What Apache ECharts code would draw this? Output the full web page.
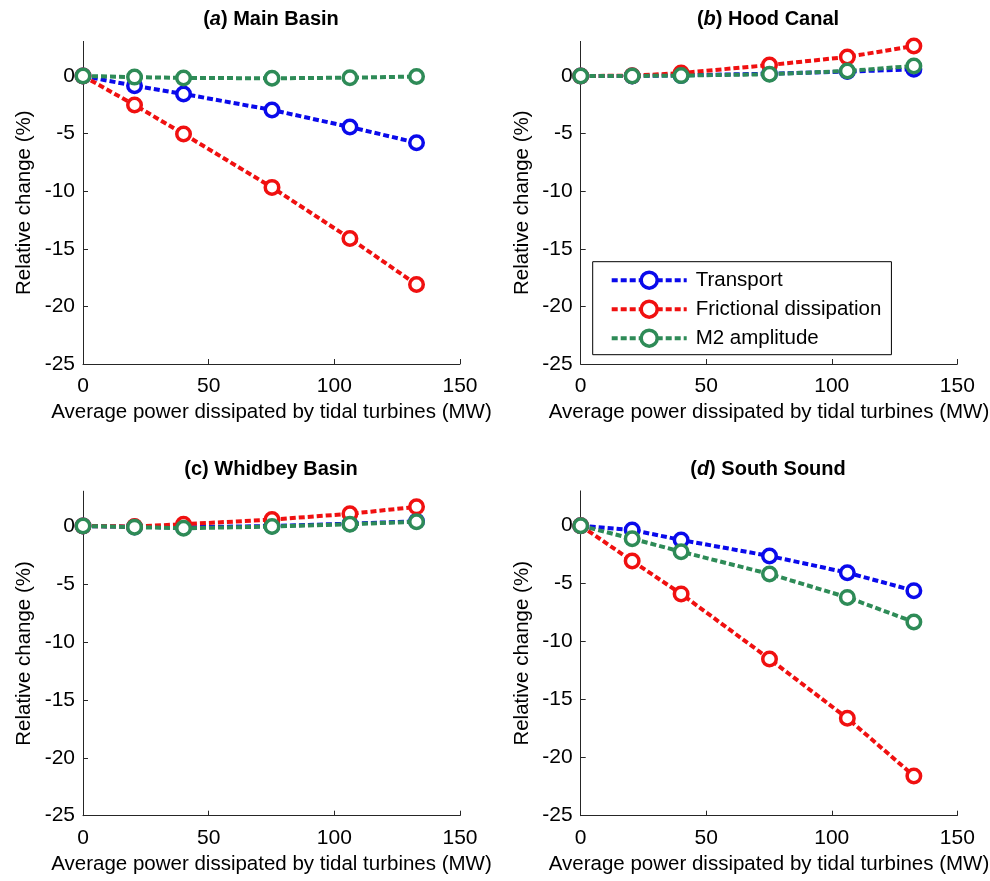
<!DOCTYPE html>
<html>
<head>
<meta charset="utf-8">
<script src="https://cdn.jsdelivr.net/npm/echarts@6/dist/echarts.min.js"></script>
<style>html,body{margin:0;padding:0;background:#fff;}#chart{width:990px;height:881px;}</style>
</head>
<body>
<div id="chart"></div>
<script>
// ---- data ----
var xValues = [0, 20.5, 40, 75.2, 106.2, 132.7];
var xTicks = [0, 50, 100, 150];
var yTicks = [-25, -20, -15, -10, -5, 0];
var seriesNames = ['Transport', 'Frictional dissipation', 'M2 amplitude'];
var panelLetters = ['a', 'b', 'c', 'd'];
var panelNames = ['Main Basin', 'Hood Canal', 'Whidbey Basin', 'South Sound'];

var mainTransport = [0, -0.85, -1.56, -2.95, -4.43, -5.79];
var mainFriction  = [0, -2.52, -5.03, -9.67, -14.1, -18.1];
var mainM2        = [0, -0.1, -0.17, -0.2, -0.15, -0.05];

var hoodTransport = [0, 0.0, 0.05, 0.2, 0.38, 0.58];
var hoodFriction  = [0, 0.02, 0.25, 0.95, 1.65, 2.6];
var hoodM2        = [0, 0.0, 0.03, 0.15, 0.43, 0.87];

var whidTransport = [0, -0.08, -0.12, 0.0, 0.2, 0.4];
var whidFriction  = [0, -0.05, 0.15, 0.55, 1.05, 1.65];
var whidM2        = [0, -0.1, -0.2, -0.05, 0.15, 0.37];

var southTransport = [0, -0.37, -1.23, -2.61, -4.05, -5.6];
var southFriction  = [0, -3.04, -5.88, -11.49, -16.6, -21.57];
var southM2        = [0, -1.12, -2.24, -4.16, -6.18, -8.3];

var panelData = [
  [mainTransport, mainFriction, mainM2],
  [hoodTransport, hoodFriction, hoodM2],
  [whidTransport, whidFriction, whidM2],
  [southTransport, southFriction, southM2]
];

// ---- styling / layout ----
var colors = ['#0a0aeb', '#f01010', '#2e8b57'];
var FONT = 'Arial, "Liberation Sans", sans-serif';
var grids = [
  {left: 83, top: 41.4, width: 377, height: 322.6},
  {left: 580.7, top: 41.4, width: 376.6, height: 322.6},
  {left: 83, top: 491.2, width: 377, height: 324.5},
  {left: 580.7, top: 490.9, width: 376.6, height: 324.8}
];
var titlePos = [
  {x: 271, y: 9}, {x: 768, y: 9}, {x: 271, y: 459}, {x: 768, y: 459}
];

var option = {
  animation: false,
  backgroundColor: '#fff',
  textStyle: {fontFamily: FONT},
  title: panelLetters.map(function (l, i) {
    var letter = (l === 'c') ? '{n|' + l + '}' : '{i|' + l + '}';
    return {
      text: '{n|(}' + letter + '{n|) ' + panelNames[i] + '}',
      left: titlePos[i].x, top: titlePos[i].y, padding: 0,
      textAlign: 'center',
      textStyle: {
        fontFamily: FONT, fontSize: 20, fontWeight: 'bold', color: '#000',
        rich: {
          n: {fontFamily: FONT, fontSize: 20, fontWeight: 'bold', color: '#000'},
          i: {fontFamily: FONT, fontSize: 20, fontWeight: 'bold', fontStyle: 'italic', color: '#000'}
        }
      }
    };
  }),
  legend: {
    data: seriesNames,
    orient: 'vertical',
    left: 592.7, top: 261.7,
    padding: [8, 10, 6, 17],
    itemWidth: 75, itemHeight: 20, itemGap: 8,
    backgroundColor: '#fff',
    borderColor: '#000', borderWidth: 1, borderRadius: 0,
    lineStyle: {width: 4, type: [6, 3]},
    itemStyle: {borderWidth: 3.5},
    textStyle: {fontFamily: FONT, fontSize: 20.5, color: '#000', padding: [0, 0, 0, 4]}
  },
  grid: grids.map(function (g) {
    return {left: g.left, top: g.top, width: g.width, height: g.height,
            containLabel: false, outerBoundsMode: 'none'};
  }),
  xAxis: grids.map(function (g, i) {
    return {
      type: 'value', gridIndex: i, min: 0, max: 150, interval: 50,
      name: 'Average power dissipated by tidal turbines (MW)',
      nameLocation: 'middle', nameGap: 38,
      nameTextStyle: {fontFamily: FONT, fontSize: 20.5, color: '#000'},
      axisLine: {onZero: false, lineStyle: {color: '#262626', width: 1}},
      axisTick: {inside: true, length: 5, lineStyle: {color: '#262626'}, customValues: xTicks},
      axisLabel: {fontFamily: FONT, fontSize: 21, color: '#000', margin: 12, customValues: xTicks},
      splitLine: {show: false}
    };
  }),
  yAxis: grids.map(function (g, i) {
    return {
      type: 'value', gridIndex: i, min: -25, max: 3, interval: 5,
      name: 'Relative change (%)',
      nameLocation: 'middle', nameGap: 48, nameRotate: 90,
      nameTextStyle: {fontFamily: FONT, fontSize: 20.5, color: '#000'},
      axisLine: {show: true, onZero: false, lineStyle: {color: '#262626', width: 1}},
      axisTick: {show: true, inside: true, length: 5, lineStyle: {color: '#262626'}, customValues: yTicks},
      axisLabel: {fontFamily: FONT, fontSize: 21, color: '#000', margin: 8, customValues: yTicks},
      splitLine: {show: false}
    };
  }),
  series: []
};

panelData.forEach(function (sets, p) {
  sets.forEach(function (vals, s) {
    option.series.push({
      type: 'line',
      name: seriesNames[s],
      xAxisIndex: p, yAxisIndex: p,
      data: xValues.map(function (x, k) { return [x, vals[k]]; }),
      symbol: 'circle', symbolSize: 13.5,
      lineStyle: {color: colors[s], width: 4, type: [6, 3]},
      itemStyle: {color: '#fff', borderColor: colors[s], borderWidth: 3.5},
      z: 2 + s
    });
  });
});

var chart = echarts.init(document.getElementById('chart'), null, {renderer: 'canvas'});
chart.setOption(option);
</script>
</body>
</html>
